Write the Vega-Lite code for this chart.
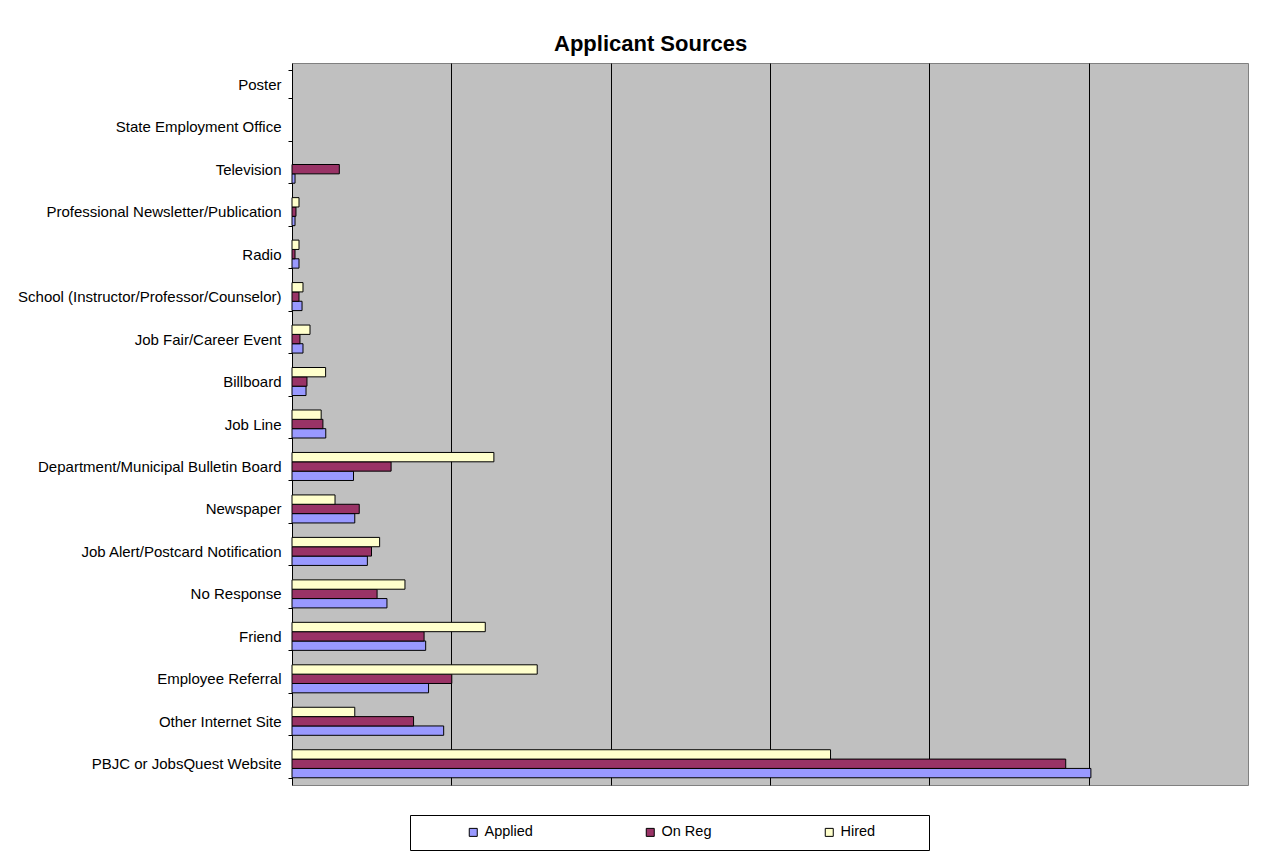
{
  "$schema": "https://vega.github.io/schema/vega-lite/v6.json",
  "width": 956,
  "height": 722,
  "autosize": {"type": "none"},
  "padding": {"left": 292, "top": 63, "right": 39, "bottom": 67},
  "background": "white",
  "title": {
    "text": "Applicant Sources",
    "anchor": "start",
    "frame": "group",
    "dx": 262,
    "dy": 28,
    "offset": 11,
    "baseline": "alphabetic",
    "font": "Liberation Sans",
    "fontSize": 22,
    "fontWeight": "bold",
    "color": "black"
  },
  "data": {
    "values": [
      {"source": "Poster", "series": "Applied", "value": 0},
      {"source": "Poster", "series": "On Reg", "value": 0},
      {"source": "Poster", "series": "Hired", "value": 0},
      {"source": "State Employment Office", "series": "Applied", "value": 0},
      {"source": "State Employment Office", "series": "On Reg", "value": 0},
      {"source": "State Employment Office", "series": "Hired", "value": 0},
      {"source": "Television", "series": "Applied", "value": 0.19},
      {"source": "Television", "series": "On Reg", "value": 2.97},
      {"source": "Television", "series": "Hired", "value": 0},
      {"source": "Professional Newsletter/Publication", "series": "Applied", "value": 0.19},
      {"source": "Professional Newsletter/Publication", "series": "On Reg", "value": 0.25},
      {"source": "Professional Newsletter/Publication", "series": "Hired", "value": 0.44},
      {"source": "Radio", "series": "Applied", "value": 0.44},
      {"source": "Radio", "series": "On Reg", "value": 0.19},
      {"source": "Radio", "series": "Hired", "value": 0.44},
      {"source": "School (Instructor/Professor/Counselor)", "series": "Applied", "value": 0.63},
      {"source": "School (Instructor/Professor/Counselor)", "series": "On Reg", "value": 0.44},
      {"source": "School (Instructor/Professor/Counselor)", "series": "Hired", "value": 0.69},
      {"source": "Job Fair/Career Event", "series": "Applied", "value": 0.69},
      {"source": "Job Fair/Career Event", "series": "On Reg", "value": 0.5},
      {"source": "Job Fair/Career Event", "series": "Hired", "value": 1.13},
      {"source": "Billboard", "series": "Applied", "value": 0.88},
      {"source": "Billboard", "series": "On Reg", "value": 0.94},
      {"source": "Billboard", "series": "Hired", "value": 2.11},
      {"source": "Job Line", "series": "Applied", "value": 2.12},
      {"source": "Job Line", "series": "On Reg", "value": 1.94},
      {"source": "Job Line", "series": "Hired", "value": 1.83},
      {"source": "Department/Municipal Bulletin Board", "series": "Applied", "value": 3.86},
      {"source": "Department/Municipal Bulletin Board", "series": "On Reg", "value": 6.22},
      {"source": "Department/Municipal Bulletin Board", "series": "Hired", "value": 12.67},
      {"source": "Newspaper", "series": "Applied", "value": 3.94},
      {"source": "Newspaper", "series": "On Reg", "value": 4.22},
      {"source": "Newspaper", "series": "Hired", "value": 2.7},
      {"source": "Job Alert/Postcard Notification", "series": "Applied", "value": 4.73},
      {"source": "Job Alert/Postcard Notification", "series": "On Reg", "value": 4.99},
      {"source": "Job Alert/Postcard Notification", "series": "Hired", "value": 5.5},
      {"source": "No Response", "series": "Applied", "value": 5.96},
      {"source": "No Response", "series": "On Reg", "value": 5.34},
      {"source": "No Response", "series": "Hired", "value": 7.09},
      {"source": "Friend", "series": "Applied", "value": 8.39},
      {"source": "Friend", "series": "On Reg", "value": 8.29},
      {"source": "Friend", "series": "Hired", "value": 12.13},
      {"source": "Employee Referral", "series": "Applied", "value": 8.57},
      {"source": "Employee Referral", "series": "On Reg", "value": 10.03},
      {"source": "Employee Referral", "series": "Hired", "value": 15.39},
      {"source": "Other Internet Site", "series": "Applied", "value": 9.52},
      {"source": "Other Internet Site", "series": "On Reg", "value": 7.63},
      {"source": "Other Internet Site", "series": "Hired", "value": 3.94},
      {"source": "PBJC or JobsQuest Website", "series": "Applied", "value": 50.14},
      {"source": "PBJC or JobsQuest Website", "series": "On Reg", "value": 48.56},
      {"source": "PBJC or JobsQuest Website", "series": "Hired", "value": 33.8}
    ]
  },
  "transform": [{"filter": "datum.value > 0"}],
  "mark": {"type": "bar", "stroke": "black", "strokeWidth": 1},
  "encoding": {
    "y": {
      "field": "source",
      "type": "nominal",
      "scale": {
        "domain": [
          "Poster",
          "State Employment Office",
          "Television",
          "Professional Newsletter/Publication",
          "Radio",
          "School (Instructor/Professor/Counselor)",
          "Job Fair/Career Event",
          "Billboard",
          "Job Line",
          "Department/Municipal Bulletin Board",
          "Newspaper",
          "Job Alert/Postcard Notification",
          "No Response",
          "Friend",
          "Employee Referral",
          "Other Internet Site",
          "PBJC or JobsQuest Website"
        ],
        "paddingInner": 0.34,
        "paddingOuter": 0.17
      },
      "axis": {
        "title": null,
        "tickBand": "extent",
        "tickSize": 4,
        "tickColor": "black",
        "domainColor": "black",
        "labelPadding": 7,
        "labelFont": "Liberation Sans",
        "labelFontSize": 15,
        "labelColor": "black",
        "labelLimit": 400,
        "grid": false
      }
    },
    "yOffset": {
      "field": "series",
      "type": "nominal",
      "scale": {"domain": ["Hired", "On Reg", "Applied"], "paddingInner": 0, "paddingOuter": 0}
    },
    "x": {
      "field": "value",
      "type": "quantitative",
      "scale": {"domain": [0, 60], "nice": false},
      "axis": {
        "title": null,
        "values": [10, 20, 30, 40, 50],
        "grid": true,
        "gridColor": "black",
        "gridOpacity": 1,
        "gridWidth": 1,
        "labels": false,
        "ticks": false,
        "domain": false
      }
    },
    "color": {
      "field": "series",
      "type": "nominal",
      "scale": {"domain": ["Applied", "On Reg", "Hired"], "range": ["#9999FF", "#993366", "#FFFFCC"]},
      "legend": {
        "orient": "none",
        "legendX": 118,
        "legendY": 752,
        "direction": "horizontal",
        "columns": 3,
        "gridAlign": "each",
        "columnPadding": 110,
        "padding": 10,
        "strokeColor": "black",
        "fillColor": "white",
        "symbolType": "square",
        "symbolSize": 64,
        "symbolStrokeColor": "black",
        "symbolStrokeWidth": 1,
        "symbolOpacity": 1,
        "labelFont": "Liberation Sans",
        "labelFontSize": 14.5,
        "labelColor": "black",
        "labelOffset": 4,
        "labelExpr": "datum.label == 'Hired' ? 'Hired\u2003\u2003\u2003\u200B' : datum.label",
        "title": "\u200B\u2003\u2003\u2003\u200B",
        "titleOrient": "left",
        "titleFont": "Liberation Sans",
        "titleFontSize": 15,
        "titlePadding": 1
      }
    }
  },
  "config": {
    "view": {"fill": "#C0C0C0", "stroke": "#808080", "strokeWidth": 1}
  }
}
